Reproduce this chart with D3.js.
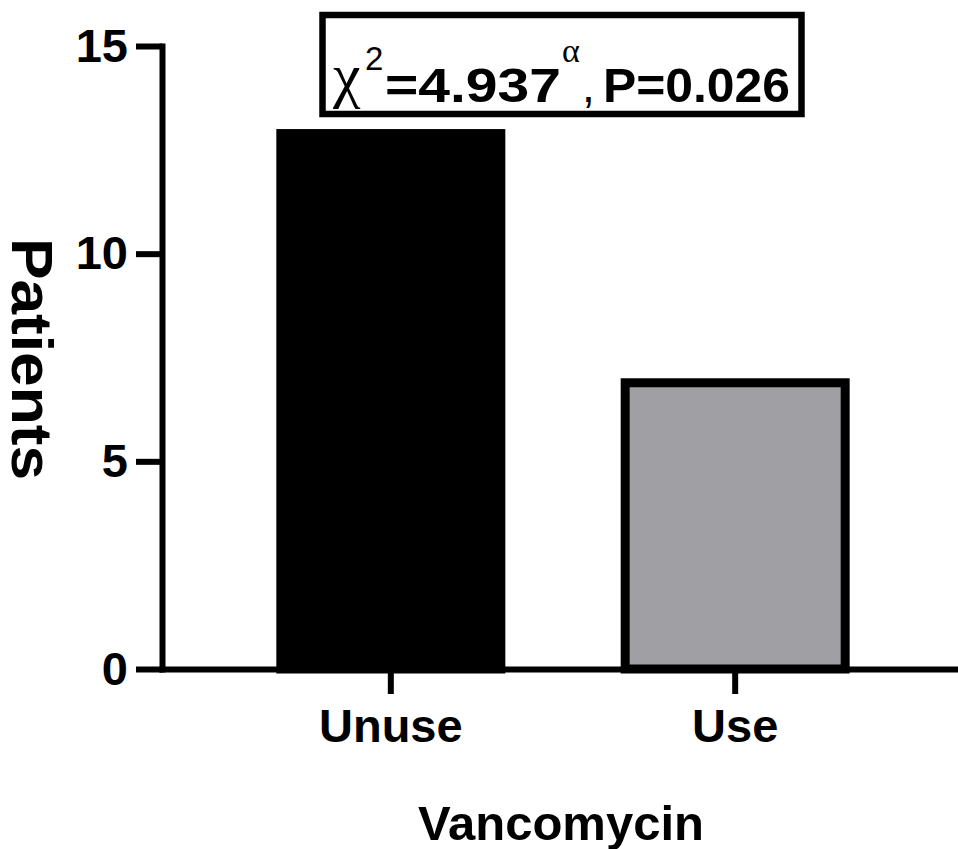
<!DOCTYPE html>
<html>
<head>
<meta charset="utf-8">
<script src="https://cdn.jsdelivr.net/npm/d3@7"></script>
<style>
  body { margin: 0; background: #fff; }
  svg text { font-family: "Liberation Sans", Arial, sans-serif; }
</style>
</head>
<body>
<div id="chart"></div>
<script>
// Data
const categories = ["Unuse", "Use"];
const patients = [13, 7];
const barColors = ["#000000", "#a09fa4"];
const yTicks = [0, 5, 10, 15];
const chiSquare = "4.937";
const pValue = "0.026";

const width = 958, height = 849;
const svg = d3.select("#chart")
  .append("svg")
    .attr("width", width)
    .attr("height", height);

// Scales
const y = d3.scaleLinear()
  .domain([0, 15])
  .range([669, 46]);

const x = d3.scaleBand()
  .domain(categories)
  .range([162, 964])
  .paddingInner(0.335)
  .paddingOuter(0.332);

// Bars (stroke kept inside the bar outline)
const sw = 9;
svg.append("g")
  .selectAll("rect")
  .data(categories)
  .enter()
  .append("rect")
    .attr("x", d => x(d) + sw / 2)
    .attr("width", x.bandwidth() - sw)
    .attr("y", (d, i) => y(patients[i]) + sw / 2)
    .attr("height", (d, i) => y(0) - y(patients[i]) - sw / 2)
    .attr("fill", (d, i) => barColors[i])
    .attr("stroke", "#000")
    .attr("stroke-width", sw);

// Y axis
const yAxis = svg.append("g")
  .attr("transform", "translate(162,0)")
  .call(d3.axisLeft(y).tickValues(yTicks).tickSize(26).tickSizeOuter(0).tickPadding(8));

// X axis
const xAxis = svg.append("g")
  .attr("transform", "translate(0,669)")
  .call(d3.axisBottom(x).tickSize(25).tickSizeOuter(0).tickPadding(15));

[yAxis, xAxis].forEach(g => {
  g.select(".domain").attr("stroke-width", 6).attr("stroke-linecap", "square");
  g.selectAll(".tick line").attr("stroke-width", 6);
  g.selectAll(".tick text")
    .attr("fill", "#000")
    .style("font-size", "47px")
    .style("font-weight", "bold");
});

// Axis titles
svg.append("text")
  .attr("transform", "translate(12,359) rotate(90)")
  .attr("text-anchor", "middle")
  .attr("textLength", 242)
  .attr("lengthAdjust", "spacingAndGlyphs")
  .style("font-size", "57px")
  .style("font-weight", "bold")
  .text("Patients");

svg.append("text")
  .attr("x", 561)
  .attr("y", 840)
  .attr("text-anchor", "middle")
  .style("font-size", "49px")
  .style("font-weight", "bold")
  .text("Vancomycin");

// Statistic annotation box
svg.append("rect")
  .attr("x", 322.5)
  .attr("y", 15)
  .attr("width", 479)
  .attr("height", 99)
  .attr("fill", "none")
  .attr("stroke", "#000")
  .attr("stroke-width", 6.5);

const note = svg.append("g");
// chi symbol
note.append("text")
  .attr("x", 333).attr("y", 96)
  .style("font-family", "'Liberation Serif', serif")
  .style("font-size", "62px")
  .text("χ");
// superscript 2
note.append("text")
  .attr("x", 365).attr("y", 70)
  .style("font-size", "33px")
  .text("2");
// =4.937
note.append("text")
  .attr("x", 385).attr("y", 102)
  .attr("textLength", 176)
  .attr("lengthAdjust", "spacingAndGlyphs")
  .style("font-size", "49px")
  .style("font-weight", "bold")
  .text("=" + chiSquare);
// superscript alpha
note.append("text")
  .attr("x", 562).attr("y", 62)
  .style("font-family", "'Liberation Serif', serif")
  .style("font-size", "34px")
  .text("α");
// comma
note.append("text")
  .attr("x", 582).attr("y", 102)
  .style("font-size", "46px")
  .text(",");
// P=0.026
note.append("text")
  .attr("x", 603).attr("y", 102)
  .attr("textLength", 187)
  .attr("lengthAdjust", "spacingAndGlyphs")
  .style("font-size", "48px")
  .style("font-weight", "bold")
  .text("P=" + pValue);
</script>
</body>
</html>
